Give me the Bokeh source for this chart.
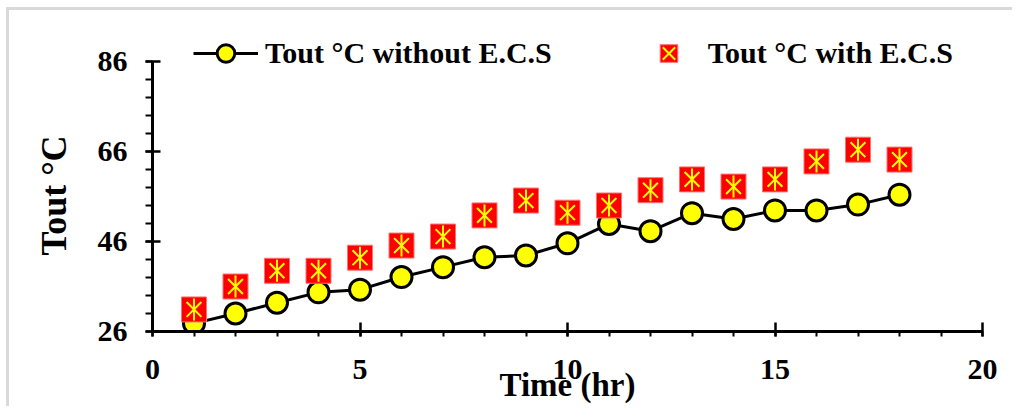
import math
from bokeh.plotting import figure
from bokeh.models import FixedTicker, Legend, LegendItem, ColumnDataSource, Range1d, Title
from bokeh.embed import file_html
from bokeh.resources import INLINE

# ---- data ----
hours = [1, 2, 3, 4, 5, 6, 7, 8, 9, 10, 11, 12, 13, 14, 15, 16, 17, 18]
tout_without = [27.8, 30.0, 32.4, 34.7, 35.3, 38.1, 40.3, 42.5, 42.9, 45.6,
                49.9, 48.3, 52.3, 51.0, 52.9, 52.9, 54.2, 56.4]
tout_with = [30.9, 36.0, 39.5, 39.5, 42.4, 45.1, 47.1, 51.8, 55.1, 52.4,
             54.0, 57.4, 59.8, 58.2, 59.8, 63.8, 66.4, 64.2]
x_ticks = [0, 5, 10, 15, 20]
x_minor = list(range(0, 21))
y_ticks = [26, 46, 66, 86]
y_minor = list(range(26, 87, 4))
label_without = "Tout \u00b0C without E.C.S"
label_with = "Tout \u00b0C with E.C.S"
x_title = "Time (hr)"
y_title = "Tout \u00b0C"

FONT = "Liberation Serif"

src_wo = ColumnDataSource(dict(x=hours, y=tout_without))
src_w = ColumnDataSource(dict(x=hours, y=tout_with))

# frame extends 36 px above the 86 tick so the legend (drawn inside the frame) is not clipped
p = figure(output_backend="svg", toolbar_location=None,
           frame_width=830, frame_height=306,
           min_border_left=143, min_border_right=30,
           min_border_top=15, min_border_bottom=75,
           x_range=Range1d(0, 20), y_range=Range1d(26, 94))
p.styles = {"border-left": "3px solid #d9d9d9", "border-top": "3px solid #d9d9d9",
            "margin-left": "6px", "margin-top": "7px"}

p.grid.visible = False
p.outline_line_color = None
p.background_fill_color = "white"
p.border_fill_color = "white"

# axes
p.xaxis.ticker = FixedTicker(ticks=x_ticks, minor_ticks=x_minor)
p.yaxis.ticker = FixedTicker(ticks=y_ticks, minor_ticks=y_minor)
p.yaxis.bounds = (26, 86)
for ax in (p.xaxis, p.yaxis):
    ax.axis_line_width = 3
    ax.axis_line_color = "black"
    ax.major_tick_line_width = 2.5
    ax.minor_tick_line_width = 2
    ax.major_tick_line_color = "black"
    ax.minor_tick_line_color = "black"
    ax.minor_tick_in = 0
    ax.major_label_text_font = FONT
    ax.major_label_text_font_style = "bold"
    ax.major_label_text_font_size = "30px"
    ax.major_label_text_color = "black"
    ax.axis_label_text_font = FONT
    ax.axis_label_text_font_style = "bold"
    ax.axis_label_text_font_size = "33px"
    ax.axis_label_text_color = "black"

p.xaxis.major_tick_in = 9
p.xaxis.major_tick_out = 5
p.xaxis.minor_tick_out = 5
p.xaxis.major_label_standoff = 23
p.xaxis.axis_label = x_title
p.xaxis.axis_label_standoff = -15

p.yaxis.major_tick_in = 8
p.yaxis.major_tick_out = 7
p.yaxis.minor_tick_out = 7
p.yaxis.major_label_standoff = 18

# y title placed along the 26..86 part of the axis
p.add_layout(Title(text=y_title, align="left", vertical_align="middle", offset=76,
                   standoff=40, text_font=FONT, text_font_style="bold",
                   text_font_size="36px", text_color="black"), "left")

# series without E.C.S : black line with yellow circles
ln = p.line("x", "y", source=src_wo, line_color="black", line_width=3)
cr = p.scatter("x", "y", source=src_wo, marker="circle", size=21,
               fill_color="#ffff00", line_color="black", line_width=3)

# series with E.C.S : red squares with yellow star
sq = p.scatter("x", "y", source=src_w, marker="square", size=25,
               fill_color="#ff0000", line_color="#ff7070", line_width=1)
sx = p.scatter("x", "y", source=src_w, marker="x", size=21,
               fill_color=None, line_color="#ffff00", line_width=2)
sv = p.scatter("x", "y", source=src_w, marker="dash", size=22, angle=math.pi / 2,
               fill_color=None, line_color="#ffff00", line_width=2)

legend = Legend(items=[LegendItem(label=label_without, renderers=[ln, cr]),
                       LegendItem(label=label_with, renderers=[sq, sx])],
                location=(41, 256), orientation="horizontal",
                glyph_width=65, glyph_height=44, label_standoff=7, spacing=84,
                padding=0, margin=0, border_line_alpha=0, background_fill_alpha=0,
                label_text_font=FONT, label_text_font_style="bold",
                label_text_font_size="30px", label_text_color="black")
p.add_layout(legend)

open("out.html", "w").write(file_html(p, INLINE))
